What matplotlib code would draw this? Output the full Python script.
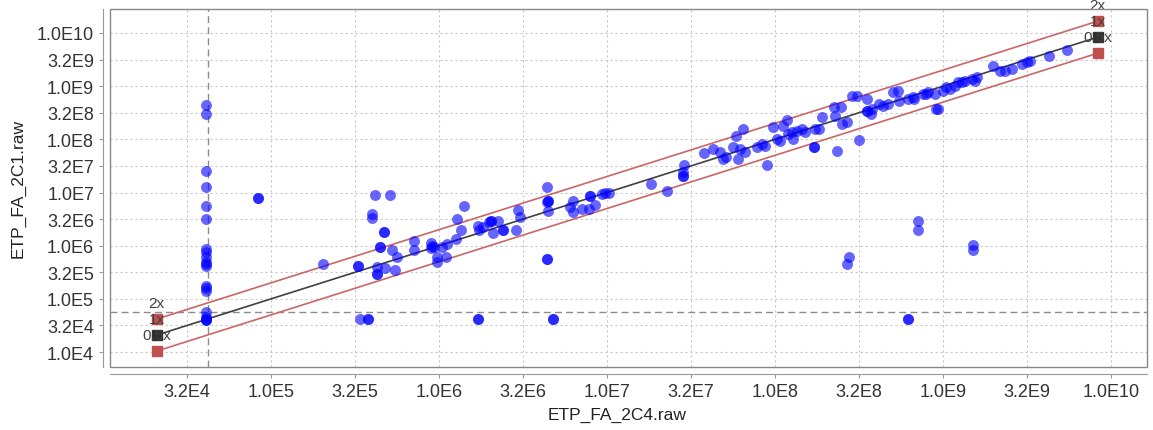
import numpy as np
import matplotlib.pyplot as plt
from matplotlib.patches import Rectangle
from matplotlib.ticker import FixedLocator, FuncFormatter, NullLocator

# values, as log10 of the raw intensities
col_y = [8.64, 8.47, 7.40, 7.10, 6.74, 6.50, 5.94, 5.88, 5.79, 5.69, 5.66, 5.62,
         5.24, 5.15, 5.20, 4.75, 4.66, 4.60, 4.62, 4.60]
col_x = [4.615] * len(col_y)

pts = [
    (4.92, 6.89), (4.92, 6.89), (5.31, 5.65), (5.52, 5.62), (5.52, 5.62),
    (5.62, 6.95), (5.71, 6.95), (5.60, 6.59), (5.60, 6.52), (5.67, 6.26), (5.67, 6.26),
    (5.65, 5.97), (5.65, 5.97), (5.72, 5.92), (5.75, 5.79), (5.63, 5.60), (5.63, 5.47),
    (5.63, 5.47), (5.68, 5.58), (5.74, 5.54), (5.85, 6.09), (5.85, 5.92),
    (5.53, 4.62), (5.58, 4.62), (5.58, 4.62),
    (5.95, 6.05), (5.95, 5.95), (5.96, 6.00), (5.97, 5.97), (5.99, 5.79), (5.99, 5.69),
    (6.04, 5.79), (6.02, 5.97), (6.05, 6.03), (6.10, 6.12), (6.11, 6.50), (6.13, 6.29),
    (6.15, 6.74), (6.23, 6.37), (6.24, 6.29), (6.26, 6.35), (6.30, 6.44), (6.31, 6.46),
    (6.31, 6.46), (6.35, 6.46), (6.32, 6.24), (6.38, 6.29), (6.38, 6.29), (6.46, 6.29),
    (6.47, 6.67), (6.48, 6.54),
    (6.23, 4.62), (6.23, 4.62), (6.68, 4.62), (6.68, 4.62), (6.64, 5.75), (6.64, 5.75),
    (6.64, 7.10), (6.64, 6.82), (6.65, 6.84), (6.65, 6.84), (6.65, 6.65),
    (6.78, 6.73), (6.80, 6.84), (6.80, 6.63), (6.85, 6.69), (6.89, 6.69), (6.90, 6.93),
    (6.90, 6.93), (6.93, 6.76), (6.97, 6.97), (6.99, 6.99), (7.01, 6.99),
    (7.26, 7.16), (7.36, 7.03), (7.45, 7.38), (7.45, 7.31), (7.45, 7.31), (7.46, 7.51),
    (7.58, 7.74), (7.63, 7.82), (7.67, 7.76), (7.69, 7.63), (7.71, 7.67), (7.75, 7.85),
    (7.77, 8.06), (7.78, 7.63), (7.79, 7.82), (7.81, 8.19), (7.82, 7.76),
    (7.89, 7.85), (7.92, 7.91), (7.94, 7.87), (7.95, 7.51),
    (7.99, 8.23), (8.01, 8.00), (8.03, 7.97), (8.05, 8.25), (8.07, 8.36), (8.08, 8.10),
    (8.10, 8.14), (8.11, 8.00), (8.13, 8.15), (8.16, 8.19), (8.18, 8.14), (8.23, 7.85),
    (8.23, 7.85), (8.24, 8.19), (8.26, 8.19), (8.28, 8.42), (8.35, 8.61), (8.36, 8.44),
    (8.37, 7.78), (8.39, 8.61), (8.40, 8.29), (8.43, 8.32), (8.46, 8.81), (8.49, 8.81),
    (8.50, 7.98), (8.55, 8.53), (8.55, 8.53), (8.55, 8.76), (8.57, 8.47), (8.58, 8.57),
    (8.62, 8.66), (8.64, 8.62), (8.67, 8.66), (8.70, 8.89), (8.73, 8.91), (8.74, 8.72),
    (8.79, 8.76), (8.82, 8.79), (8.83, 8.76), (8.88, 8.85), (8.90, 8.85), (8.91, 8.89),
    (8.95, 8.85), (8.96, 8.57), (8.97, 8.57), (9.00, 8.91), (9.02, 8.98), (9.04, 8.94),
    (9.07, 9.00), (9.09, 9.08), (9.11, 9.08), (9.13, 9.09), (9.17, 9.13), (9.20, 9.17),
    (9.19, 9.09),
    (9.30, 9.38), (9.34, 9.28), (9.37, 9.28), (9.41, 9.32), (9.47, 9.41), (9.50, 9.45),
    (9.52, 9.47), (9.63, 9.56), (9.74, 9.68),
    (8.43, 5.65), (8.44, 5.79), (8.85, 6.46), (8.85, 6.29), (9.18, 6.01), (9.18, 5.92),
    (8.79, 4.62), (8.79, 4.62),
]

x_log = np.array(col_x + [p[0] for p in pts])
y_log = np.array(col_y + [p[1] for p in pts])
x_vals = 10 ** x_log
y_vals = 10 ** y_log

ratio_labels = ['0.5x', '1x', '2x']
ratios = [0.5, 1.0, 2.0]
line_ends = [10 ** 4.32, 10 ** 9.92]
x_cut = 10 ** 4.625
y_cut = 10 ** 4.75

plt.rcParams['font.family'] = ['Liberation Sans', 'DejaVu Sans']

fig = plt.figure(figsize=(11.53, 4.31), dpi=100)
ax = fig.add_axes([0.0954, 0.1462, 0.8994, 0.8306])
ax.set_xscale('log')
ax.set_yscale('log')
ax.set_xlim(10 ** 4.042, 10 ** 10.214)
ax.set_ylim(10 ** 3.72, 10 ** 10.45)

ax.grid(True, color='#c8c8c8', linestyle=(0, (2, 2.5)), linewidth=0.8)
ax.set_axisbelow(True)

ax.axvline(x_cut, color='#8c8c8c', linestyle=(0, (5, 3)), linewidth=1)
ax.axhline(y_cut, color='#8c8c8c', linestyle=(0, (5, 3)), linewidth=1)

for r in ratios:
    c = '#404040' if r == 1.0 else '#cc6666'
    mc = '#303030' if r == 1.0 else '#c05050'
    ys = [v * r for v in line_ends]
    ax.plot(line_ends, ys, color=c, linewidth=1.2, zorder=2)
    ax.plot(line_ends, ys, linestyle='none', marker='s', markersize=7,
            color=mc, zorder=4)

# the labels sit one step up from their own line, as in the original
for lab, r in zip(ratio_labels, ratios):
    for xe in line_ends:
        ax.text(xe, xe * r * 2, lab, ha='center', va='center', fontsize=11,
                color='#404040', zorder=5)

ax.scatter(x_vals, y_vals, s=62, color='#0000ff', alpha=0.6, linewidths=0, zorder=3)

ticks = 10 ** np.arange(4, 10.01, 0.5)
def fmt(v, pos):
    e = int(np.floor(np.log10(v) + 1e-9))
    return '%.1fE%d' % (v / 10 ** e, e)

ax.xaxis.set_major_locator(FixedLocator(ticks))
ax.yaxis.set_major_locator(FixedLocator(ticks))
ax.xaxis.set_minor_locator(NullLocator())
ax.yaxis.set_minor_locator(NullLocator())
ax.xaxis.set_major_formatter(FuncFormatter(fmt))
ax.yaxis.set_major_formatter(FuncFormatter(fmt))
ax.tick_params(labelsize=13, colors='#333333', length=3, width=0.8)
ax.tick_params(axis='both', color='#999999')

for s in ['top', 'right']:
    ax.spines[s].set_visible(False)
for s in ['left', 'bottom']:
    ax.spines[s].set_position(('outward', 5))
    ax.spines[s].set_color('#999999')
ax.add_patch(Rectangle((0, 0), 1, 1, transform=ax.transAxes, fill=False,
                       edgecolor='#888888', linewidth=1, zorder=6, clip_on=False))

ax.set_xlabel('ETP_FA_2C4.raw', fontsize=12.5, color='#222222')
ax.set_ylabel('ETP_FA_2C1.raw', fontsize=12.5, color='#222222', labelpad=8)
ax.xaxis.set_label_coords(0.489, -0.11)

fig.savefig('out.png', dpi=100)
